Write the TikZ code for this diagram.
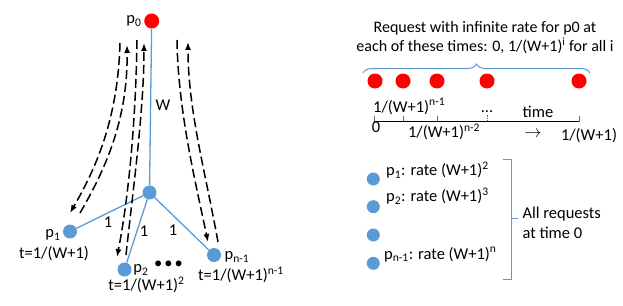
\documentclass[tikz,border=0pt]{standalone}
\usepackage{fontspec}
\setmainfont{Carlito}
\usetikzlibrary{arrows.meta,decorations.pathreplacing}
\definecolor{nodeblue}{HTML}{5B9BD5}
\definecolor{nodered}{HTML}{FF0000}

\begin{document}
\begin{tikzpicture}[
        x=1pt, y=-1pt,
        redn/.style={circle, fill=nodered, minimum size=15pt, inner sep=0pt},
        bluen/.style={circle, fill=nodeblue, minimum size=14pt, inner sep=0pt},
        lbl/.style={inner sep=0pt, font=\fontsize{16.5}{18}\selectfont},
        toplbl/.style={inner sep=0pt, font=\fontsize{16}{17}\selectfont},
        treeedge/.style={draw=nodeblue, line width=1.3pt},
        msg/.style={draw, line width=1.5pt, dash pattern=on 9pt off 4pt, -{Latex[length=8pt,width=6pt]}},
        tick/.style={draw=black!60, line width=0.6pt},
    ]
    \useasboundingbox (0,0) rectangle (623,305);
    % tree
    \node[redn](p0) at (151.7,21){};
    \node[bluen](hub) at (149.5,192.5){};
    \node[bluen](p1) at (70,231.5){};
    \node[bluen](p2) at (124.5,269.5){};
    \node[bluen](pn1) at (214,255){};
    \draw[treeedge] (p0) -- (hub);
    \draw[treeedge] (hub) -- (p1);
    \draw[treeedge] (hub) -- (p2);
    \draw[treeedge] (hub) -- (pn1);
    \node[lbl](p0lbl) at (134,21){p\textsubscript{0}};
    \node[lbl](wlbl) at (163,105){W};
    \node[lbl](w1) at (108,222){1};
    \node[lbl](w2) at (144,231){1};
    \node[lbl](w3) at (173,230){1};
    \node[lbl](p1lbl) at (53,235){p\textsubscript{1}};
    \node[lbl](t1) at (54,254){t=1/(W+1)};
    \node[lbl](p2lbl) at (141,270){p\textsubscript{2}};
    \node[lbl](t2) at (146.5,285){t=1/(W+1)\textsuperscript{2}};
    \node[lbl](dots) at (168.5,265){\textbullet\hspace{2pt}\textbullet\hspace{2pt}\textbullet};
    \node[lbl](pn1lbl) at (237,257){p\textsubscript{n-1}};
    \node[lbl](tn1) at (241,275){t=1/(W+1)\textsuperscript{n-1}};
    % request paths
    \coordinate (a1) at (120,43);  \coordinate (a2) at (70,213);
    \coordinate (b1) at (80,213);  \coordinate (b2) at (127,45);
    \coordinate (c1) at (137,40);  \coordinate (c2) at (117,257);
    \coordinate (d1) at (126,255); \coordinate (d2) at (144,43);
    \coordinate (e1) at (177,40);  \coordinate (e2) at (208,242);
    \coordinate (f1) at (218,242); \coordinate (f2) at (188,42);
    \draw[msg] (a1) .. controls (118,120) and (95,170) .. (a2);
    \draw[msg] (b1) .. controls (105,170) and (128,120) .. (b2);
    \draw[msg] (c1) .. controls (136,110) and (130,190) .. (c2);
    \draw[msg] (d1) .. controls (133,190) and (144,110) .. (d2);
    \draw[msg] (e1) .. controls (178,110) and (195,180) .. (e2);
    \draw[msg] (f1) .. controls (205,170) and (188,110) .. (f2);

    % timeline
    \node[toplbl, anchor=base](req1) at (485,33){Request with infinite rate for p0 at};
    \node[toplbl, anchor=base](req2) at (485,52){each of these times: 0, 1/(W+1)\textsuperscript{i} for all i};
    \draw[draw=nodeblue, line width=1pt, decorate, decoration={brace, amplitude=9pt}] (363,73) -- (590,73);
    \foreach \x/\n in {375/r1, 403/r2, 437/r3, 487/r4, 579/r5}
        \node[redn](\n) at (\x,81){};
    \coordinate (t0) at (374,121.7);
    \coordinate (tend) at (579,121.7);
    \draw[tick] (374,121.7) -- (374,116);
    \draw[tick] (403,121.7) -- (403,116);
    \draw[tick] (437,121.7) -- (437,116);
    \draw[tick, densely dotted] (487,121.7) -- (487,115);
    \draw[tick] (579,121.7) -- (579,116);
    \draw[line width=1.5pt] (t0) -- (tend);
    \node[lbl, anchor=base west](tn1lbl) at (373,112){1/(W+1)\textsuperscript{n-1}};
    \node[lbl, anchor=base](tdots) at (487,112.5){...};
    \node[lbl, anchor=base](timelbl) at (538,117){time};
    \node[lbl, anchor=base](zero) at (376,132){0};
    \node[lbl, anchor=base](tn2lbl) at (444,137.5){1/(W+1)\textsuperscript{n-2}};
    \node[lbl](tarrow) at (533,134){$\rightarrow$};
    \node[lbl, anchor=base](tlast) at (589,140.5){1/(W+1)};

    % rates
    \node[bluen, minimum size=13pt](q1) at (373.3,179){};
    \node[bluen, minimum size=13pt](q2) at (373.3,206.7){};
    \node[bluen, minimum size=13pt](q3) at (373.3,235){};
    \node[bluen, minimum size=13pt](q4) at (373.3,263.3){};
    \node[lbl, anchor=base west](q1lbl) at (386,175.7){p\textsubscript{1}: rate (W+1)\textsuperscript{2}};
    \node[lbl, anchor=base west](q2lbl) at (386,201.7){p\textsubscript{2}: rate (W+1)\textsuperscript{3}};
    \node[lbl, anchor=base west](q4lbl) at (384,259){p\textsubscript{n-1}: rate (W+1)\textsuperscript{n}};
    \draw[draw=nodeblue, line width=1pt] (503.3,159) -- (511.7,159) -- (511.7,279) -- (503.3,279);
    \draw[draw=nodeblue, line width=1pt] (511.7,218.3) -- (518,218.3);
    \node[lbl, anchor=base west](allreq1) at (522.3,218.3){All requests};
    \node[lbl, anchor=base west](allreq2) at (522.3,238.3){at time 0};
\end{tikzpicture}
\end{document}
